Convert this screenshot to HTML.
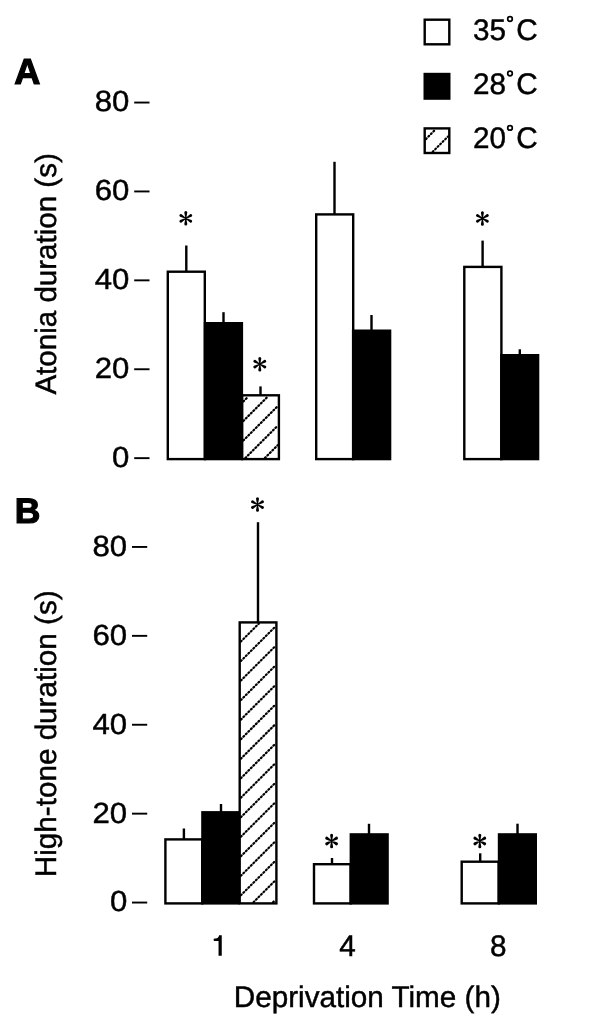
<!DOCTYPE html>
<html><head><meta charset="utf-8"><style>
html,body{margin:0;padding:0;background:#fff;width:600px;height:1020px;overflow:hidden}
svg{display:block;will-change:transform}
</style></head><body>
<svg width="600" height="1020" viewBox="0 0 600 1020">
<style>text{text-rendering:geometricPrecision;font-family:"Liberation Sans",sans-serif;font-size:29.7px;fill:#000;stroke:#000;stroke-width:0.45} .ht{fill:none;stroke:#000;stroke-width:2.2;stroke-linecap:round;stroke-dasharray:1.0 2.54} .pl{font-weight:bold;font-size:35.5px;stroke:#000;stroke-width:1.2}</style>
<rect width="600" height="1020" fill="#fff"/>
<text class="pl" x="14.3" y="84.2" style="font-size:36.2px">A</text>
<text class="pl" x="14.7" y="523.2">B</text>
<rect x="134.2" y="101.60" width="15.30" height="1.9" fill="#000"/>
<text transform="translate(129.3 111.45) scale(1.07 1)" text-anchor="end" style="font-size:29.1px">80</text>
<rect x="134.2" y="190.50" width="15.30" height="1.9" fill="#000"/>
<text transform="translate(129.3 200.35) scale(1.07 1)" text-anchor="end" style="font-size:29.1px">60</text>
<rect x="134.2" y="279.40" width="15.30" height="1.9" fill="#000"/>
<text transform="translate(129.3 289.25) scale(1.07 1)" text-anchor="end" style="font-size:29.1px">40</text>
<rect x="134.2" y="368.30" width="15.30" height="1.9" fill="#000"/>
<text transform="translate(129.3 378.15) scale(1.07 1)" text-anchor="end" style="font-size:29.1px">20</text>
<rect x="134.2" y="457.20" width="15.30" height="1.9" fill="#000"/>
<text transform="translate(129.3 467.05) scale(1.07 1)" text-anchor="end" style="font-size:29.1px">0</text>
<rect x="132.0" y="546.00" width="15.20" height="1.9" fill="#000"/>
<text transform="translate(127.2 555.85) scale(1.07 1)" text-anchor="end" style="font-size:29.1px">80</text>
<rect x="132.0" y="634.90" width="15.20" height="1.9" fill="#000"/>
<text transform="translate(127.2 644.75) scale(1.07 1)" text-anchor="end" style="font-size:29.1px">60</text>
<rect x="132.0" y="723.80" width="15.20" height="1.9" fill="#000"/>
<text transform="translate(127.2 733.65) scale(1.07 1)" text-anchor="end" style="font-size:29.1px">40</text>
<rect x="132.0" y="812.70" width="15.20" height="1.9" fill="#000"/>
<text transform="translate(127.2 822.55) scale(1.07 1)" text-anchor="end" style="font-size:29.1px">20</text>
<rect x="132.0" y="901.60" width="15.20" height="1.9" fill="#000"/>
<text transform="translate(127.2 911.45) scale(1.07 1)" text-anchor="end" style="font-size:29.1px">0</text>
<text transform="translate(56.3 394.6) rotate(-90)" style="font-size:29.55px">Atonia duration (s)</text>
<text transform="translate(56.3 877.2) rotate(-90)" style="font-size:29.66px">High-tone duration (s)</text>
<rect x="167.80" y="271.70" width="37.00" height="187.40" fill="#fff" stroke="#000" stroke-width="2.4"/>
<rect x="203.80" y="322.00" width="39.30" height="138.30" fill="#000"/>
<rect x="242.20" y="395.30" width="36.70" height="63.80" fill="#fff" stroke="#000" stroke-width="2.4"/>
<path d="M243.40 401.38L248.28 396.50M243.40 420.90L267.80 396.50M243.40 440.42L277.70 406.12M245.44 457.90L277.70 425.64M264.96 457.90L277.70 445.16" class="ht"/>
<rect x="316.20" y="214.40" width="37.00" height="244.70" fill="#fff" stroke="#000" stroke-width="2.4"/>
<rect x="351.90" y="329.50" width="39.40" height="130.80" fill="#000"/>
<rect x="464.30" y="266.90" width="37.10" height="192.20" fill="#fff" stroke="#000" stroke-width="2.4"/>
<rect x="500.10" y="354.00" width="39.20" height="106.30" fill="#000"/>
<rect x="165.40" y="839.40" width="36.80" height="64.00" fill="#fff" stroke="#000" stroke-width="2.4"/>
<rect x="201.20" y="811.10" width="38.40" height="93.50" fill="#000"/>
<rect x="239.70" y="622.40" width="36.70" height="281.00" fill="#fff" stroke="#000" stroke-width="2.4"/>
<path d="M240.90 641.52L258.82 623.60M240.90 661.04L275.20 626.74M240.90 680.56L275.20 646.26M240.90 700.08L275.20 665.78M240.90 719.60L275.20 685.30M240.90 739.12L275.20 704.82M240.90 758.64L275.20 724.34M240.90 778.16L275.20 743.86M240.90 797.68L275.20 763.38M240.90 817.20L275.20 782.90M240.90 836.72L275.20 802.42M240.90 856.24L275.20 821.94M240.90 875.76L275.20 841.46M240.90 895.28L275.20 860.98M253.50 902.20L275.20 880.50M273.02 902.20L275.20 900.02" class="ht"/>
<rect x="314.00" y="864.20" width="36.60" height="39.20" fill="#fff" stroke="#000" stroke-width="2.4"/>
<rect x="349.60" y="833.20" width="39.20" height="71.40" fill="#000"/>
<rect x="461.70" y="861.70" width="36.90" height="41.70" fill="#fff" stroke="#000" stroke-width="2.4"/>
<rect x="497.80" y="833.20" width="39.20" height="71.40" fill="#000"/>
<rect x="185.10" y="245.50" width="2.4" height="26.00" fill="#000"/>
<rect x="222.30" y="312.20" width="2.4" height="10.80" fill="#000"/>
<rect x="259.30" y="386.40" width="2.4" height="8.70" fill="#000"/>
<rect x="333.30" y="161.80" width="2.4" height="52.40" fill="#000"/>
<rect x="370.30" y="315.00" width="2.4" height="15.50" fill="#000"/>
<rect x="481.40" y="240.60" width="2.4" height="26.10" fill="#000"/>
<rect x="518.60" y="349.30" width="2.4" height="5.70" fill="#000"/>
<rect x="182.70" y="828.50" width="2.4" height="10.70" fill="#000"/>
<rect x="219.80" y="804.00" width="2.4" height="8.10" fill="#000"/>
<rect x="256.80" y="522.20" width="2.4" height="100.00" fill="#000"/>
<rect x="330.80" y="858.00" width="2.4" height="6.00" fill="#000"/>
<rect x="367.80" y="823.80" width="2.4" height="10.40" fill="#000"/>
<rect x="479.00" y="853.30" width="2.4" height="8.20" fill="#000"/>
<rect x="516.30" y="823.70" width="2.4" height="10.50" fill="#000"/>
<path d="M186.25 218.30L187.30 212.55A1.5 1.5 0 0 0 184.30 212.55L185.35 218.30ZM185.35 218.30L184.30 224.05A1.5 1.5 0 0 0 187.30 224.05L186.25 218.30ZM186.03 218.69L191.53 216.72A1.5 1.5 0 0 0 190.03 214.13L185.58 217.91ZM186.03 217.91L181.57 214.13A1.5 1.5 0 0 0 180.07 216.72L185.58 218.69ZM185.58 217.91L180.07 219.88A1.5 1.5 0 0 0 181.57 222.47L186.03 218.69ZM185.58 218.69L190.03 222.47A1.5 1.5 0 0 0 191.53 219.88L186.03 217.91Z" fill="#000"/>
<circle cx="185.80" cy="218.30" r="0.9" fill="#000"/>
<path d="M260.25 364.20L261.30 358.45A1.5 1.5 0 0 0 258.30 358.45L259.35 364.20ZM259.35 364.20L258.30 369.95A1.5 1.5 0 0 0 261.30 369.95L260.25 364.20ZM260.03 364.59L265.53 362.62A1.5 1.5 0 0 0 264.03 360.03L259.57 363.81ZM260.03 363.81L255.57 360.03A1.5 1.5 0 0 0 254.07 362.62L259.57 364.59ZM259.57 363.81L254.07 365.78A1.5 1.5 0 0 0 255.57 368.37L260.03 364.59ZM259.57 364.59L264.03 368.37A1.5 1.5 0 0 0 265.53 365.78L260.03 363.81Z" fill="#000"/>
<circle cx="259.80" cy="364.20" r="0.9" fill="#000"/>
<path d="M482.85 218.40L483.90 212.65A1.5 1.5 0 0 0 480.90 212.65L481.95 218.40ZM481.95 218.40L480.90 224.15A1.5 1.5 0 0 0 483.90 224.15L482.85 218.40ZM482.62 218.79L488.13 216.82A1.5 1.5 0 0 0 486.63 214.23L482.17 218.01ZM482.62 218.01L478.17 214.23A1.5 1.5 0 0 0 476.67 216.82L482.17 218.79ZM482.17 218.01L476.67 219.98A1.5 1.5 0 0 0 478.17 222.57L482.62 218.79ZM482.17 218.79L486.63 222.57A1.5 1.5 0 0 0 488.13 219.98L482.62 218.01Z" fill="#000"/>
<circle cx="482.40" cy="218.40" r="0.9" fill="#000"/>
<path d="M257.95 504.60L259.00 498.85A1.5 1.5 0 0 0 256.00 498.85L257.05 504.60ZM257.05 504.60L256.00 510.35A1.5 1.5 0 0 0 259.00 510.35L257.95 504.60ZM257.73 504.99L263.23 503.02A1.5 1.5 0 0 0 261.73 500.43L257.27 504.21ZM257.73 504.21L253.27 500.43A1.5 1.5 0 0 0 251.77 503.02L257.27 504.99ZM257.27 504.21L251.77 506.18A1.5 1.5 0 0 0 253.27 508.77L257.73 504.99ZM257.27 504.99L261.73 508.77A1.5 1.5 0 0 0 263.23 506.18L257.73 504.21Z" fill="#000"/>
<circle cx="257.50" cy="504.60" r="0.9" fill="#000"/>
<path d="M332.05 841.00L333.10 835.25A1.5 1.5 0 0 0 330.10 835.25L331.15 841.00ZM331.15 841.00L330.10 846.75A1.5 1.5 0 0 0 333.10 846.75L332.05 841.00ZM331.83 841.39L337.33 839.42A1.5 1.5 0 0 0 335.83 836.83L331.38 840.61ZM331.83 840.61L327.37 836.83A1.5 1.5 0 0 0 325.87 839.42L331.38 841.39ZM331.38 840.61L325.87 842.58A1.5 1.5 0 0 0 327.37 845.17L331.83 841.39ZM331.38 841.39L335.83 845.17A1.5 1.5 0 0 0 337.33 842.58L331.83 840.61Z" fill="#000"/>
<circle cx="331.60" cy="841.00" r="0.9" fill="#000"/>
<path d="M480.25 841.00L481.30 835.25A1.5 1.5 0 0 0 478.30 835.25L479.35 841.00ZM479.35 841.00L478.30 846.75A1.5 1.5 0 0 0 481.30 846.75L480.25 841.00ZM480.03 841.39L485.53 839.42A1.5 1.5 0 0 0 484.03 836.83L479.57 840.61ZM480.03 840.61L475.57 836.83A1.5 1.5 0 0 0 474.07 839.42L479.57 841.39ZM479.57 840.61L474.07 842.58A1.5 1.5 0 0 0 475.57 845.17L480.03 841.39ZM479.57 841.39L484.03 845.17A1.5 1.5 0 0 0 485.53 842.58L480.03 840.61Z" fill="#000"/>
<circle cx="479.80" cy="841.00" r="0.9" fill="#000"/>
<rect x="424.7" y="19.7" width="24.6" height="24.6" fill="#fff" stroke="#000" stroke-width="2.4"/>
<text x="473.1" y="39.5">35</text>
<text x="516.2" y="39.5">C</text>
<circle cx="510" cy="19.00" r="2.3" fill="none" stroke="#000" stroke-width="1.7"/>
<rect x="423.5" y="72.8" width="27" height="27" fill="#000"/>
<text x="473.1" y="94.0">28</text>
<text x="516.2" y="94.0">C</text>
<circle cx="510" cy="73.50" r="2.3" fill="none" stroke="#000" stroke-width="1.7"/>
<rect x="424.7" y="128.4" width="24.6" height="24.6" fill="#fff" stroke="#000" stroke-width="2.4"/>
<path d="M425.90 139.10L435.40 129.60M432.72 151.80L448.10 136.42" class="ht"/>
<text x="473.1" y="148.4">20</text>
<text x="516.2" y="148.4">C</text>
<circle cx="510" cy="127.90" r="2.3" fill="none" stroke="#000" stroke-width="1.7"/>
<path d="M219.1 935.2L221.75 935.2L221.75 955.8L218.55 955.8L218.55 941.1L214.8 941.1A1.2 1.2 0 0 1 214.8 938.6L215.6 938.6Q218.3 938.4 219.1 935.2Z" fill="#000"/>
<text x="347.6" y="956.0" text-anchor="middle">4</text>
<text x="498.2" y="956.0" text-anchor="middle">8</text>
<text x="233.8" y="1007.4" style="font-size:29.66px">Deprivation Time (h)</text>
</svg>
</body></html>
